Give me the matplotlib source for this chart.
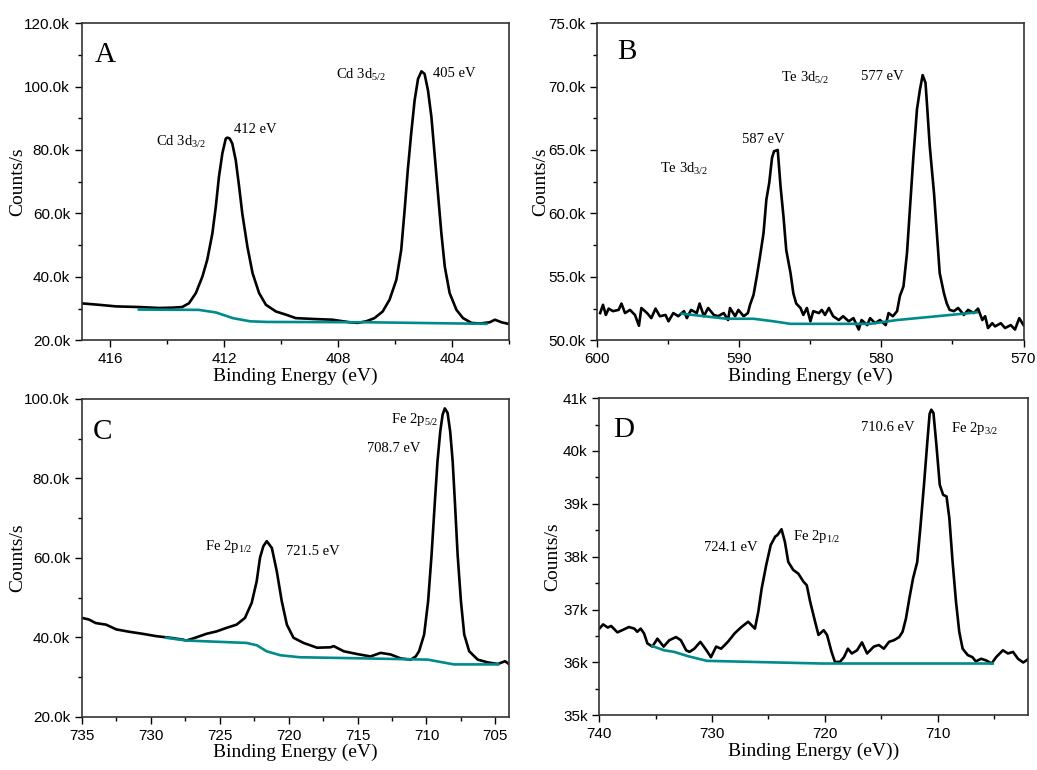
import matplotlib
matplotlib.use("Agg")
import matplotlib.pyplot as plt
from matplotlib.ticker import MultipleLocator, FuncFormatter

plt.rcParams['font.family'] = ['Liberation Sans', 'DejaVu Sans']
plt.rcParams['mathtext.default'] = 'regular'

# ---- A: Cd 3d ----
a_x = [417.06, 416.4, 415.8, 415.0, 414.3, 413.83, 413.48, 413.24, 413.0, 412.77,
       412.6, 412.42, 412.3, 412.19, 412.07, 411.95, 411.89, 411.81, 411.72, 411.6,
       411.48, 411.37, 411.19, 411.01, 410.78, 410.54, 410.19, 409.84, 409.49, 408.78,
       408.2, 407.6, 407.32, 407.02, 406.73, 406.44, 406.2, 405.96, 405.79, 405.67,
       405.56, 405.44, 405.32, 405.2, 405.08, 404.97, 404.85, 404.73, 404.62, 404.5,
       404.38, 404.26, 404.09, 403.85, 403.62, 403.32, 403.03, 402.68, 402.5, 402.27,
       402.03]
a_y = [31.7, 31.2, 30.7, 30.5, 30.2, 30.3, 30.5, 31.7, 34.9, 40.1,
       45.4, 53.7, 62.1, 71.5, 78.9, 83.6, 83.9, 83.6, 82.0, 76.8,
       68.4, 60.0, 49.5, 41.2, 34.9, 31.2, 29.1, 28.1, 27.0, 26.7,
       26.5, 25.7, 25.5, 26.0, 27.0, 29.1, 32.8, 39.1, 48.5, 61.1,
       73.6, 85.2, 95.6, 102.4, 104.8, 104.0, 98.8, 90.4, 78.9, 66.3,
       53.7, 43.2, 34.9, 29.6, 27.0, 25.5, 25.3, 25.7, 26.5, 25.7,
       25.2]
a_bx = [415.0, 412.9, 412.3, 411.7, 411.1, 410.5, 407.0, 402.8]
a_by = [29.7, 29.6, 28.8, 27.0, 26.0, 25.8, 25.7, 25.2]

# ---- B: Te 3d ----
b_x = [599.8, 599.6, 599.4, 599.2, 598.9, 598.5, 598.3, 598.05, 597.7, 597.35,
       597.07, 596.9, 596.5, 596.2, 595.9, 595.6, 595.2, 594.99, 594.65, 594.3,
       593.9, 593.7, 593.4, 593.0, 592.8, 592.5, 592.2, 591.8, 591.5, 591.1,
       590.8, 590.66, 590.3, 590.07, 589.7, 589.4, 589.25, 589.0, 588.78, 588.55,
       588.3, 588.1, 587.9, 587.7, 587.56, 587.3, 587.1, 586.9, 586.7, 586.4,
       586.2, 586.0, 585.7, 585.5, 585.25, 585.0, 584.8, 584.4, 584.2, 583.97,
       583.7, 583.4, 583.0, 582.7, 582.3, 581.97, 581.6, 581.4, 581.0, 580.8,
       580.45, 580.1, 579.7, 579.5, 579.2, 578.9, 578.7, 578.45, 578.2, 578.0,
       577.75, 577.5, 577.3, 577.1, 576.9, 576.8, 576.6, 576.3, 576.1, 575.9,
       575.6, 575.4, 575.2, 574.9, 574.6, 574.2, 573.9, 573.5, 573.2, 572.9,
       572.7, 572.5, 572.2, 572.0, 571.6, 571.3, 570.9, 570.6, 570.3, 570.0]
b_y = [52.15, 52.8, 52.0, 52.5, 52.3, 52.4, 52.9, 52.15, 52.4, 52.0,
       51.15, 52.55, 52.15, 51.75, 52.5, 51.9, 52.0, 51.5, 52.15, 51.9,
       52.3, 51.75, 52.4, 52.15, 52.9, 51.9, 52.55, 52.0, 51.9, 52.15,
       51.6, 52.55, 51.9, 52.4, 51.9, 52.15, 52.8, 53.6, 55.0, 56.6,
       58.45, 61.1, 62.4, 64.4, 64.9, 65.0, 62.1, 59.8, 57.1, 55.3,
       53.7, 52.9, 52.55, 52.0, 52.55, 51.5, 52.3, 52.15, 52.4, 52.0,
       52.55, 51.9, 51.6, 51.9, 51.5, 51.75, 50.85, 51.6, 51.2, 51.75,
       51.35, 51.6, 51.2, 52.15, 51.9, 52.3, 53.5, 54.25, 56.9, 60.3,
       64.5, 68.2, 69.7, 70.9, 70.3, 68.7, 65.3, 61.6, 58.45, 55.3,
       53.7, 52.9, 52.4, 52.3, 52.55, 52.0, 52.4, 52.15, 52.5, 51.6,
       51.9, 50.97, 51.35, 51.1, 51.35, 50.97, 51.2, 50.85, 51.75, 51.2]
b_bx = [594.06, 590.9, 589.0, 587.6, 586.4, 584.3, 580.8, 578.9, 576.1, 573.3]
b_by = [52.1, 51.7, 51.7, 51.5, 51.3, 51.3, 51.3, 51.6, 51.9, 52.2]

# ---- C: Fe 2p ----
c_x = [735.0, 734.5, 734.0, 733.25, 732.5, 731.55, 730.6, 729.6, 728.6, 727.7,
       727.42, 726.7, 725.96, 725.23, 724.5, 723.78, 723.17, 722.68, 722.32, 722.08,
       721.84, 721.59, 721.22, 720.86, 720.5, 720.13, 719.65, 718.92, 717.94, 716.97,
       716.73, 716.0, 715.03, 714.06, 713.33, 712.6, 711.87, 711.14, 710.78, 710.54,
       710.17, 709.88, 709.63, 709.39, 709.2, 709.0, 708.83, 708.67, 708.47, 708.28,
       708.1, 707.94, 707.74, 707.5, 707.26, 706.9, 706.28, 705.55, 704.83, 704.3,
       703.9]
c_y = [44.9, 44.5, 43.6, 43.2, 42.0, 41.4, 40.9, 40.3, 39.9, 39.45,
       39.2, 40.0, 40.9, 41.5, 42.4, 43.2, 44.9, 48.7, 54.1, 60.0,
       62.9, 64.2, 62.5, 56.6, 49.1, 43.2, 39.9, 38.6, 37.4, 37.5,
       37.8, 36.5, 35.8, 35.2, 36.1, 35.7, 34.7, 34.4, 35.2, 36.5,
       40.7, 49.1, 60.8, 74.2, 84.3, 91.8, 96.0, 97.6, 96.5, 91.8,
       84.3, 74.2, 60.8, 49.1, 40.7, 36.5, 34.4, 33.7, 33.3, 34.0,
       33.0]
c_bx = [728.9, 727.4, 723.05, 722.3, 721.6, 720.6, 719.2, 714.3, 709.9, 708.96, 708.0, 704.8]
c_by = [39.9, 39.2, 38.6, 38.0, 36.5, 35.5, 35.0, 34.7, 34.4, 33.8, 33.2, 33.2]

# ---- D: Fe 2p ----
d_x = [740.0, 739.67, 739.26, 738.96, 738.4, 737.98, 737.38, 736.9, 736.64, 736.34,
       736.04, 735.74, 735.3, 734.85, 734.3, 733.8, 733.2, 732.77, 732.3, 732.0,
       731.58, 731.04, 730.5, 730.1, 729.64, 729.2, 728.6, 728.0, 727.4, 726.8,
       726.2, 725.9, 725.6, 725.2, 724.8, 724.4, 724.2, 723.84, 723.54, 723.24,
       722.8, 722.35, 721.9, 721.6, 721.3, 720.86, 720.56, 720.1, 719.8, 719.4,
       719.1, 718.66, 718.3, 717.95, 717.6, 717.14, 716.7, 716.25, 715.65, 715.2,
       714.76, 714.3, 713.87, 713.4, 713.1, 712.8, 712.5, 712.17, 711.8, 711.5,
       711.2, 710.9, 710.7, 710.55, 710.36, 710.1, 709.8, 709.5, 709.2, 708.95, 708.66,
       708.36, 708.07, 707.77, 707.32, 706.9, 706.6, 706.13, 705.7, 705.2, 704.8,
       704.2, 703.75, 703.3, 702.86, 702.4, 702.1, 701.8]
d_y = [36.64, 36.72, 36.66, 36.69, 36.57, 36.61, 36.67, 36.64, 36.58, 36.64,
       36.55, 36.36, 36.3, 36.45, 36.3, 36.42, 36.48, 36.42, 36.23, 36.2,
       36.26, 36.39, 36.23, 36.1, 36.3, 36.26, 36.39, 36.55, 36.67, 36.77,
       36.64, 36.96, 37.4, 37.84, 38.22, 38.38, 38.41, 38.52, 38.28, 37.9,
       37.75, 37.68, 37.53, 37.46, 37.15, 36.77, 36.52, 36.61, 36.52, 36.2,
       36.01, 36.01, 36.1, 36.26, 36.17, 36.23, 36.38, 36.17, 36.3, 36.33,
       36.26, 36.39, 36.42, 36.48, 36.58, 36.83, 37.21, 37.59, 37.9, 38.6,
       39.36, 40.18, 40.7, 40.78, 40.72, 40.12, 39.36, 39.17, 39.14, 38.73, 37.9,
       37.15, 36.58, 36.26, 36.14, 36.1, 36.02, 36.07, 36.04, 35.98, 36.1,
       36.23, 36.17, 36.2, 36.07, 36.0, 36.04, 36.09]
d_bx = [735.3, 734.26, 733.36, 732.17, 730.45, 720.27, 705.1]
d_by = [36.31, 36.23, 36.2, 36.12, 36.03, 35.98, 35.98]

serif = ['Liberation Serif', 'DejaVu Serif']
teal = '#008B8B'

fig = plt.figure(figsize=(10.37, 7.7), dpi=100)
axA = fig.add_axes([0.079, 0.558, 0.412, 0.412])
axB = fig.add_axes([0.576, 0.558, 0.411, 0.412])
axC = fig.add_axes([0.079, 0.069, 0.412, 0.413])
axD = fig.add_axes([0.578, 0.071, 0.413, 0.412])


def k1(v, pos):
    return f"{v:.1f}k"


def k0(v, pos):
    return f"{v:.0f}k"


def style(ax, xlim, ylim, xmaj, ymaj, fmt, letter, lx, ly, xlabel, ypad):
    ax.set_xlim(*xlim)
    ax.set_ylim(*ylim)
    ax.xaxis.set_major_locator(MultipleLocator(xmaj))
    ax.xaxis.set_minor_locator(MultipleLocator(xmaj / 2))
    ax.yaxis.set_major_locator(MultipleLocator(ymaj))
    ax.yaxis.set_minor_locator(MultipleLocator(ymaj / 2))
    ax.yaxis.set_major_formatter(FuncFormatter(fmt))
    ax.tick_params(which='major', direction='out', length=5, width=1, labelsize=11,
                   top=False, right=False)
    ax.tick_params(which='minor', direction='out', length=3, width=1,
                   top=False, right=False)
    for s in ax.spines.values():
        s.set_linewidth(1.2)
        s.set_color('#333333')
    ax.set_xlabel(xlabel, family=serif, fontsize=14, labelpad=1)
    ax.set_ylabel('Counts/s', family=serif, fontsize=14, labelpad=ypad)
    ax.text(lx, ly, letter, transform=ax.transAxes, family=serif, fontsize=21,
            va='center', ha='left')


def lab(ax, x, y, s):
    ax.text(x, y, s, family=serif, fontsize=10.5, va='center', ha='left')


lw = 1.9

axA.plot(a_x, a_y, color='black', lw=lw)
axA.plot(a_bx, a_by, color=teal, lw=lw)
style(axA, (417, 402), (20, 120), 4, 20, k1, 'A', 0.03, 0.90, 'Binding Energy (eV)', -1)
lab(axA, 414.4, 82.5, r'Cd 3d$_{3/2}$')
lab(axA, 411.66, 86.4, '412 eV')
lab(axA, 408.08, 103.5, r'Cd 3d$_{5/2}$')
lab(axA, 404.67, 104.2, '405 eV')

axB.plot(b_x, b_y, color='black', lw=lw)
axB.plot(b_bx, b_by, color=teal, lw=lw)
style(axB, (600, 570), (50, 75), 10, 5, k1, 'B', 0.047, 0.91, 'Binding Energy (eV)', -1)
lab(axB, 595.6, 63.5, r'Te 3d$_{3/2}$')
lab(axB, 589.8, 65.8, '587 eV')
lab(axB, 587.07, 70.7, r'Te 3d$_{5/2}$')
lab(axB, 581.45, 70.8, '577 eV')

axC.plot(c_x, c_y, color='black', lw=lw)
axC.plot(c_bx, c_by, color=teal, lw=lw)
style(axC, (735, 704), (20, 100), 5, 20, k1, 'C', 0.026, 0.896, 'Binding Energy (eV)', -1)
lab(axC, 726.1, 62.9, r'Fe 2p$_{1/2}$')
lab(axC, 720.2, 61.7, '721.5 eV')
lab(axC, 712.55, 94.9, r'Fe 2p$_{5/2}$')
lab(axC, 714.3, 87.4, '708.7 eV')

axD.plot(d_x, d_y, color='black', lw=lw)
axD.plot(d_bx, d_by, color=teal, lw=lw)
style(axD, (740, 702), (35, 41), 10, 1, k0, 'D', 0.032, 0.90, 'Binding Energy (eV))', 1)
lab(axD, 730.74, 38.18, '724.1 eV')
lab(axD, 722.8, 38.38, r'Fe 2p$_{1/2}$')
lab(axD, 716.76, 40.45, '710.6 eV')
lab(axD, 708.8, 40.43, r'Fe 2p$_{3/2}$')

fig.savefig('out.png', dpi=100)
